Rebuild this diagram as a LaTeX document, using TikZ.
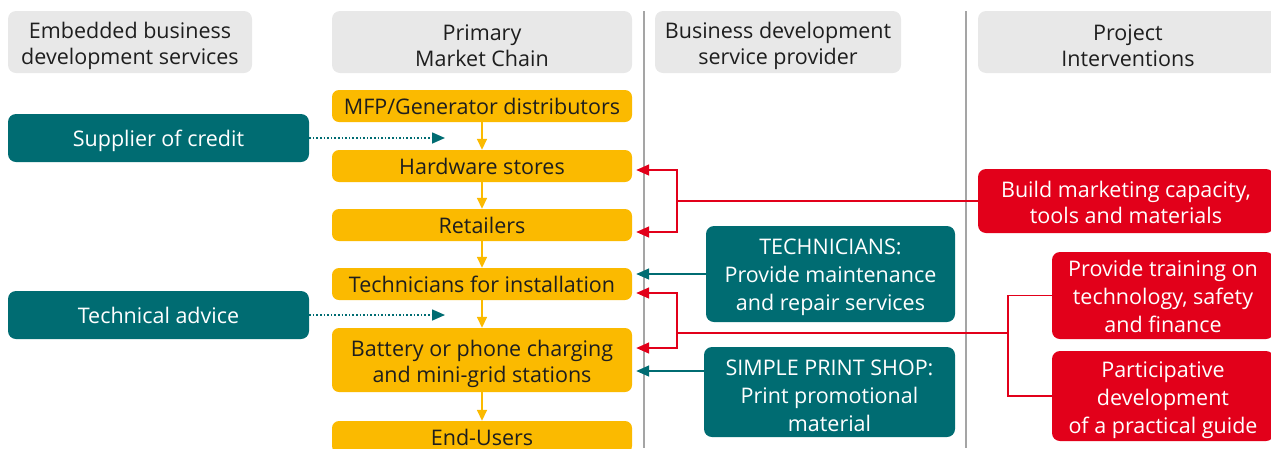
\documentclass[tikz,border=0pt]{standalone}
\usepackage{fontspec}
\setmainfont{Open Sans}
\usetikzlibrary{arrows.meta}
\definecolor{hgray}{RGB}{232,232,232}
\definecolor{vgray}{RGB}{165,165,165}
\definecolor{myyellow}{RGB}{251,186,0}
\definecolor{myteal}{RGB}{0,108,114}
\definecolor{myred}{RGB}{226,0,26}
\definecolor{txtdark}{RGB}{30,30,30}
\newcommand{\topstrut}[1]{\rule{0pt}{#1}}
\tikzset{
  hdr/.style={fill=hgray, rounded corners=8pt, align=center, minimum height=62pt, inner sep=0pt, text=txtdark},
  ybox/.style={fill=myyellow, rounded corners=7pt, minimum width=300pt, minimum height=32pt, inner sep=0pt, align=center, text=txtdark},
  tbox/.style={fill=myteal, rounded corners=8pt, inner sep=0pt, align=center, text=white},
  rbox/.style={fill=myred, rounded corners=8pt, inner sep=0pt, align=center, text=white},
  yarr/.style={draw=myyellow, line width=1.6pt, -{Triangle[width=10pt,length=11pt]}},
  tarr/.style={draw=myteal, line width=1.6pt, -{Triangle[width=11pt,length=13pt]}, shorten >=4pt},
  dotarr/.style={draw=myteal, line width=1.6pt, dotted, -{Triangle[width=11pt,length=13pt]}},
  rline/.style={draw=myred, line width=1.6pt},
  rarr/.style={draw=myred, line width=1.6pt, -{Triangle[width=11pt,length=13pt]}, shorten >=4pt},
  vline/.style={draw=vgray, line width=2pt}
}
\begin{document}
\begin{tikzpicture}[x=1pt,y=-1pt, font=\fontsize{21.5}{26}\selectfont]
\useasboundingbox (0,0) rectangle (1271,448);
% column separators
\coordinate (v1t) at (644,11); \coordinate (v1b) at (644,448);
\coordinate (v2t) at (966,11); \coordinate (v2b) at (966,448);
\draw[vline] (v1t) -- (v1b);
\draw[vline] (v2t) -- (v2b);
% headers
\node[hdr, minimum width=244pt] (h1) at (130,42) {\topstrut{24pt}Embedded business\\development services};
\node[hdr, minimum width=300pt] (h2) at (482,42) {\topstrut{24pt}Primary\\Market Chain};
\node[hdr, minimum width=246pt] (h3) at (778,42) {\topstrut{24pt}Business development\\service provider};
\node[hdr, minimum width=300pt] (h4) at (1128,42) {\topstrut{24pt}Project\\Interventions};
% primary chain
\node[ybox] (mfp) at (482,106) {MFP/Generator distributors};
\node[ybox] (hw) at (482,166) {Hardware stores};
\node[ybox] (ret) at (482,225) {Retailers};
\node[ybox] (inst) at (482,284) {Technicians for installation};
\node[ybox, minimum height=64pt] (batt) at (482,360) {\topstrut{24pt}Battery or phone charging\\and mini-grid stations};
\node[ybox] (end) at (482,437) {End-Users};
\draw[yarr] (mfp) -- (hw);
\draw[yarr] (hw) -- (ret);
\draw[yarr] (ret) -- (inst);
\draw[yarr] (inst) -- (batt);
\draw[yarr] (batt) -- (end);
% embedded services
\node[tbox, minimum width=301pt, minimum height=48pt] (credit) at (158.5,138) {\topstrut{22pt}Supplier of credit};
\node[tbox, minimum width=301pt, minimum height=48pt] (advice) at (158.5,315) {Technical advice};
\coordinate (d1) at (445,138);
\coordinate (d2) at (445,315);
\draw[dotarr] (credit) -- (d1);
\draw[dotarr] (advice) -- (d2);
% BDS providers
\node[tbox, minimum width=249pt, minimum height=96pt] (techs) at (830.5,274) {\topstrut{23pt}TECHNICIANS:\\[2pt]Provide maintenance\\[2pt]and repair services};
\node[tbox, minimum width=251pt, minimum height=90pt] (print) at (829.5,392) {\topstrut{24pt}SIMPLE PRINT SHOP:\\[2pt]Print promotional\\[2pt]material};
\draw[tarr] (techs.west) -- (inst.east |- techs.west);
\coordinate (p1) at ([yshift=21pt]print.west);
\draw[tarr] (p1) -- (batt.east |- p1);
% project interventions
\node[rbox, minimum width=296pt, minimum height=64pt] (build) at (1126,201) {\topstrut{20pt}Build marketing capacity,\\tools and materials};
\node[rbox, minimum width=222pt, minimum height=87pt] (train) at (1163,295.5) {\topstrut{19pt}Provide training on\\[2pt]technology, safety\\[2pt]and finance};
\node[rbox, minimum width=222pt, minimum height=90pt] (part) at (1163,396) {\topstrut{24pt}Participative\\[2pt]development\\[2pt]of a practical guide};
\coordinate (rj1) at (677,201);
\draw[rline] (build.west) -- (rj1);
\draw[rarr] (rj1) |- ([yshift=-4pt]hw.east);
\draw[rarr] (rj1) |- ([yshift=-7pt]ret.east);
\coordinate (rj2) at (1008,333);
\coordinate (rj3) at (677,333);
\draw[rline] (train.west) -| (rj2) |- (part.west);
\draw[rline] (rj2) -- (rj3);
\draw[rarr] (rj3) |- ([yshift=-9pt]inst.east);
\draw[rarr] (rj3) |- ([yshift=12pt]batt.east);
\end{tikzpicture}
\end{document}
